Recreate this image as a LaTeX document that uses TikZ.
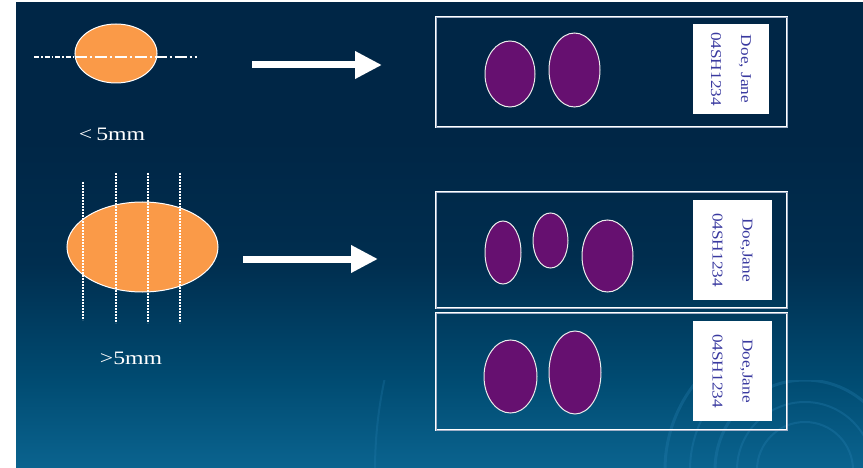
\documentclass[tikz,border=0pt]{standalone}
\usepackage{fontspec}
\setmainfont{Liberation Serif}
\usetikzlibrary{shapes.geometric,arrows.meta}
\definecolor{swirl}{RGB}{40,130,180}
\definecolor{tumor}{RGB}{250,154,72}
\definecolor{piece}{RGB}{102,16,112}
\definecolor{labeltext}{RGB}{58,58,160}
\definecolor{rimgray}{RGB}{160,176,200}
\pgfdeclareverticalshading{slidebg}{100bp}{rgb(0bp)=(0.04,0.39,0.56); rgb(25bp)=(0.04,0.39,0.56); rgb(35bp)=(0.0,0.29,0.44); rgb(47bp)=(0.0,0.18,0.31); rgb(60bp)=(0.0,0.15,0.275); rgb(100bp)=(0.0,0.15,0.275)}
\tikzset{
  tumorshape/.style={ellipse, fill=tumor, draw=white, line width=1pt, inner sep=0pt},
  piecesh/.style={ellipse, fill=piece, draw=white!85!gray, line width=1pt, inner sep=0pt},
  slidebox/.style={rectangle, draw=white, line width=0.9pt, double=rimgray, double distance=0.8pt, inner sep=0pt},
  labelbox/.style={rectangle, fill=white, rotate=-90, inner sep=0pt, align=center, text=labeltext, font=\fontsize{15}{30}\selectfont},
  bigarrow/.style={white, line width=7pt, -{Triangle[length=27pt,width=26pt]}},
  cutline/.style={white, line width=1.5pt, dash pattern=on 1.6pt off 1.4pt},
  sizetext/.style={text=white, font=\fontsize{19}{22}\selectfont, inner sep=0pt}
}
\begin{document}
\begin{tikzpicture}[x=1pt,y=-1pt]
\useasboundingbox (0,0) rectangle (863,468);
\fill[white] (0,0) rectangle (863,468);
\shade[shading=slidebg] (16,3) rectangle (863,468);
% faint swirl in the corner
\begin{scope}
\clip (16,380) rectangle (863,468);
\foreach \r/\w in {140/3, 115/2, 90/3, 68/2, 48/2}
  \draw[swirl, opacity=0.3, line width=\w pt] (805,470) circle[radius=\r];
\draw[swirl, opacity=0.25, line width=2pt] (805,470) circle[radius=430];
\end{scope}

% small sample
\node[tumorshape, minimum width=82pt, minimum height=59pt] (small) at (116,53.5) {};
\coordinate (cutL) at (34,57);
\coordinate (cutR) at (197,57);
\coordinate (cutM) at (small.west |- cutL);
\draw[white, line width=1.6pt, dash pattern=on 5pt off 2pt on 1.5pt off 2pt] (cutL) -- (cutM);
\draw[white, line width=1.6pt, dash pattern=on 12pt off 3pt on 2pt off 3pt] (cutM) -- (cutR);
\node[sizetext, xscale=1.25] (lt) at (112,134) {<\,5mm};

% big sample
\node[tumorshape, minimum width=151pt, minimum height=90pt] (big) at (142.5,247) {};
\foreach \x/\t/\b [count=\i] in {83/182/320, 116/173/323, 148/173/323, 180/173/323} {
  \coordinate (ct\i) at (\x,\t);
  \coordinate (cb\i) at (\x,\b);
  \draw[cutline] (ct\i) -- (cb\i);
}
\node[sizetext, xscale=1.25] (gt) at (131,358) {>5mm};

% arrows
\coordinate (a1s) at (252,65);
\coordinate (a1e) at (382,65);
\draw[bigarrow] (a1s) -- (a1e);
\coordinate (a2s) at (243,259);
\coordinate (a2e) at (378,259);
\draw[bigarrow] (a2s) -- (a2e);

% slide 1
\node[slidebox, minimum width=351pt, minimum height=110pt] (s1) at (611.5,72) {};
\node[labelbox, minimum width=90pt, minimum height=76pt] (l1) at (731,69)
  {\scalebox{1.15}[1]{Doe, Jane}\\\scalebox{1.15}[1]{04SH1234}};
\node[piecesh, minimum width=50pt, minimum height=66pt] (p11) at (510,74) {};
\node[piecesh, minimum width=51pt, minimum height=74pt] (p12) at (574.5,70) {};

% slide 2
\node[slidebox, minimum width=351pt, minimum height=116pt] (s2) at (611.5,250) {};
\node[labelbox, minimum width=100pt, minimum height=79pt] (l2) at (732.5,250)
  {\scalebox{1.15}[1]{Doe,Jane}\\\scalebox{1.15}[1]{04SH1234}};
\node[piecesh, minimum width=36pt, minimum height=63pt] (p21) at (503,252.5) {};
\node[piecesh, minimum width=35pt, minimum height=55pt] (p22) at (550.5,240.5) {};
\node[piecesh, minimum width=51pt, minimum height=72pt] (p23) at (607.5,256) {};

% slide 3
\node[slidebox, minimum width=351pt, minimum height=117pt] (s3) at (611.5,371.5) {};
\node[labelbox, minimum width=100pt, minimum height=79pt] (l3) at (732.5,371)
  {\scalebox{1.15}[1]{Doe,Jane}\\\scalebox{1.15}[1]{04SH1234}};
\node[piecesh, minimum width=53pt, minimum height=73pt] (p31) at (510.5,376.5) {};
\node[piecesh, minimum width=52pt, minimum height=83pt] (p32) at (575,372.5) {};
\end{tikzpicture}
\end{document}
